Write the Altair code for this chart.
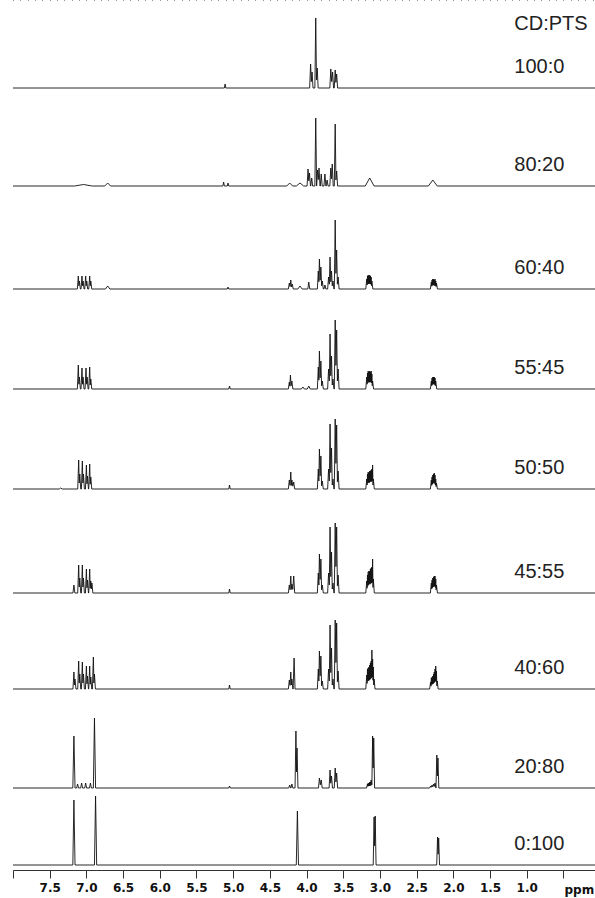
import altair as alt
import pandas as pd

# Stacked 1H NMR spectra of CD:PTS mixtures.
# Each peak is (shift in ppm, height in intensity units[, half width in ppm]).
SAMPLES = ["100:0", "80:20", "60:40", "55:45", "50:50", "45:55", "40:60", "20:80", "0:100"]

PEAKS_100_0 = [
    (5.11, 4, 0.01),
    (3.945, 24), (3.925, 16), (3.875, 70, 0.012), (3.855, 20),
    (3.67, 19), (3.645, 16), (3.61, 18), (3.59, 14),
]

PEAKS_80_20 = [
    (7.04, 1.5, 0.12), (6.71, 3, 0.04), (5.13, 4, 0.01), (5.07, 3, 0.01),
    (4.23, 3, 0.04), (4.09, 3, 0.05),
    (3.98, 17), (3.96, 13), (3.93, 8), (3.875, 68, 0.012), (3.85, 16),
    (3.83, 18), (3.80, 12), (3.75, 12), (3.72, 6),
    (3.67, 18), (3.65, 22), (3.61, 62, 0.012), (3.59, 15),
    (3.14, 8, 0.06), (2.28, 6, 0.06),
]

PEAKS_60_40 = [
    (7.11, 13), (7.095, 8), (7.06, 13), (7.045, 8), (7.01, 13), (6.995, 8), (6.955, 13), (6.94, 8),
    (6.71, 3, 0.03), (5.07, 2, 0.01),
    (4.235, 6), (4.215, 9), (4.195, 5), (4.09, 3, 0.03), (3.97, 7),
    (3.84, 18), (3.825, 30), (3.805, 22), (3.785, 8), (3.75, 4),
    (3.70, 12), (3.68, 32), (3.66, 18), (3.64, 8),
    (3.61, 69, 0.012), (3.59, 39), (3.57, 12),
    (3.18, 10), (3.17, 13), (3.16, 14), (3.15, 13), (3.14, 14), (3.13, 13), (3.12, 12), (3.11, 8),
    (2.30, 7), (2.29, 9), (2.28, 10), (2.27, 10), (2.26, 9), (2.25, 10), (2.24, 8), (2.23, 6),
]

PEAKS_55_45 = [
    (7.11, 24), (7.095, 12), (7.06, 21), (7.045, 12), (7.005, 21), (6.99, 12), (6.955, 22), (6.94, 10),
    (5.05, 3, 0.01),
    (4.235, 7), (4.22, 14), (4.20, 8), (4.05, 2, 0.02), (3.97, 3, 0.02),
    (3.84, 22), (3.825, 38), (3.805, 28), (3.785, 8),
    (3.70, 20), (3.68, 55), (3.66, 33), (3.64, 10),
    (3.61, 69, 0.012), (3.59, 59), (3.57, 20),
    (3.18, 12), (3.17, 16), (3.16, 18), (3.15, 17), (3.14, 18), (3.13, 17), (3.12, 18), (3.11, 15), (3.10, 8),
    (2.30, 8), (2.29, 11), (2.28, 12), (2.27, 12), (2.26, 12), (2.25, 11), (2.24, 8),
]

PEAKS_50_50 = [
    (7.35, 1, 0.02),
    (7.105, 29), (7.09, 15), (7.055, 28), (7.04, 15), (7.00, 24), (6.985, 13), (6.955, 25), (6.94, 12),
    (5.05, 4, 0.01),
    (4.235, 9), (4.215, 17), (4.20, 9), (4.175, 7),
    (3.84, 20), (3.825, 40), (3.805, 33), (3.785, 8),
    (3.70, 20), (3.68, 65), (3.66, 41), (3.64, 10),
    (3.61, 70, 0.012), (3.59, 64), (3.57, 18),
    (3.18, 10), (3.17, 15), (3.16, 17), (3.15, 16), (3.14, 18), (3.13, 18), (3.12, 19), (3.11, 20), (3.10, 24), (3.09, 10),
    (2.30, 9), (2.29, 12), (2.28, 14), (2.27, 15), (2.26, 16), (2.25, 14), (2.24, 10), (2.23, 6),
]

PEAKS_45_55 = [
    (7.17, 8),
    (7.105, 28), (7.09, 15), (7.055, 28), (7.04, 15), (7.00, 24), (6.985, 13), (6.955, 24), (6.94, 12), (6.925, 10),
    (5.05, 4, 0.01),
    (4.235, 8), (4.215, 17), (4.20, 9), (4.175, 17),
    (3.84, 20), (3.825, 39), (3.805, 34), (3.785, 8),
    (3.70, 20), (3.68, 66), (3.66, 41), (3.64, 10),
    (3.61, 70, 0.012), (3.59, 66), (3.57, 18),
    (3.18, 12), (3.17, 18), (3.16, 21), (3.15, 22), (3.14, 22), (3.13, 24), (3.12, 25), (3.11, 26), (3.10, 34), (3.09, 14),
    (2.30, 10), (2.29, 13), (2.28, 15), (2.27, 16), (2.26, 17), (2.25, 17), (2.24, 14), (2.23, 8),
]

PEAKS_40_60 = [
    (7.17, 17), (7.155, 10),
    (7.105, 28), (7.09, 15), (7.055, 27), (7.04, 15), (7.00, 23), (6.985, 13), (6.955, 23), (6.94, 12),
    (6.905, 32), (6.89, 15),
    (5.05, 4, 0.01),
    (4.235, 9), (4.215, 17), (4.20, 10), (4.17, 31),
    (3.84, 20), (3.825, 38), (3.805, 33), (3.785, 8),
    (3.70, 20), (3.68, 64), (3.66, 41), (3.64, 10),
    (3.61, 69, 0.012), (3.59, 66), (3.57, 18),
    (3.18, 14), (3.17, 20), (3.16, 21), (3.15, 22), (3.14, 24), (3.13, 26), (3.12, 28), (3.11, 39), (3.10, 30), (3.09, 22), (3.08, 10),
    (2.31, 7), (2.30, 11), (2.29, 12), (2.28, 13), (2.27, 15), (2.26, 17), (2.25, 20), (2.24, 23), (2.23, 18), (2.22, 8),
]

PEAKS_20_80 = [
    (7.17, 52, 0.015), (7.12, 4), (7.065, 5), (7.01, 5), (6.945, 5), (6.89, 70, 0.015),
    (5.05, 2, 0.01),
    (4.23, 3), (4.20, 4), (4.145, 57, 0.012), (4.13, 40),
    (3.825, 10), (3.80, 8), (3.68, 18), (3.66, 12), (3.61, 20), (3.59, 15),
    (3.17, 4), (3.16, 5), (3.15, 5), (3.14, 6), (3.13, 6), (3.12, 8),
    (3.10, 52, 0.012), (3.085, 50, 0.012),
    (2.31, 2), (2.29, 3), (2.27, 4), (2.25, 5), (2.225, 33, 0.012), (2.21, 30, 0.012),
]

PEAKS_0_100 = [
    (7.17, 65, 0.015), (6.875, 69, 0.015), (4.125, 54, 0.015),
    (3.08, 48, 0.012), (3.065, 49, 0.012), (2.215, 28, 0.012), (2.20, 27, 0.012),
]

SPECTRA = [PEAKS_100_0, PEAKS_80_20, PEAKS_60_40, PEAKS_55_45, PEAKS_50_50,
           PEAKS_45_55, PEAKS_40_60, PEAKS_20_80, PEAKS_0_100]

# Layout: vertical baseline of each trace (in intensity units above the axis)
BASE_LEVELS = [782, 684, 581, 481, 381, 277, 181, 82, 5]
LABEL_RISE = 21
LABEL_PPM = 1.17
HEADER = "CD:PTS"
HEADER_LEVEL = 846

PPM_LEFT, PPM_RIGHT = 8.0, 0.07
DEFAULT_HW = 0.013
VALLEY = 0.4
Y_TOP = 870


def trace(peaks):
    """Polyline vertices (ppm, intensity) for a list of peaks."""
    items = sorted(((p[0], p[1], p[2] if len(p) > 2 else DEFAULT_HW) for p in peaks),
                   key=lambda t: -t[0])
    pts = [(PPM_LEFT, 0.0)]
    for i, (pos, h, w) in enumerate(items):
        if i == 0:
            pts.append((pos + w, 0.0))
        else:
            ppos, ph, pw = items[i - 1]
            if ppos - pw >= pos + w:
                pts.append((ppos - pw, 0.0))
                pts.append((pos + w, 0.0))
            else:
                pts.append(((ppos + pos) / 2.0, VALLEY * min(ph, h)))
        pts.append((pos, float(h)))
    last = items[-1]
    pts.append((last[0] - last[2], 0.0))
    pts.append((PPM_RIGHT, 0.0))
    return pts


rows = []
for name, peaks, base in zip(SAMPLES, SPECTRA, BASE_LEVELS):
    for k, (ppm, val) in enumerate(trace(peaks)):
        rows.append({"sample": name, "idx": k, "ppm": ppm, "level": base + val})
df = pd.DataFrame(rows)

labels = pd.DataFrame({
    "text": [HEADER] + SAMPLES,
    "ppm": [LABEL_PPM] * (len(SAMPLES) + 1),
    "level": [HEADER_LEVEL] + [b + LABEL_RISE for b in BASE_LEVELS],
})

MAJOR_TICKS = [round(8.0 - 0.5 * i, 1) for i in range(16)]
MINOR_TICKS = [round(8.0 - 0.1 * i, 1) for i in range(80)]

x_scale = alt.Scale(domain=[PPM_RIGHT, PPM_LEFT], reverse=True, nice=False, zero=False)
y_scale = alt.Scale(domain=[0, Y_TOP], nice=False, zero=False)

major_axis = alt.Axis(
    values=MAJOR_TICKS,
    labelExpr="datum.value > 0.9 && datum.value < 7.9 ? format(datum.value, '.1f') : ''",
    tickSize=8, tickColor="#333", tickWidth=1,
    domainColor="#333", domainWidth=1,
    labelFont="DejaVu Sans", labelFontSize=12, labelFontWeight="bold", labelColor="#111",
    labelPadding=4, labelOverlap=False, labelFlush=False, grid=False,
    title="ppm", titleFont="DejaVu Sans", titleFontSize=12, titleFontWeight="bold",
    titleColor="#111", titleX=551, titleY=23, titleAlign="left", titleBaseline="alphabetic",
)

minor_axis = alt.Axis(
    values=MINOR_TICKS, tickSize=4, tickColor="#333", tickWidth=1,
    labels=False, domain=False, grid=False, title=None,
)

lines = alt.Chart(df).mark_line(color="#111111", strokeWidth=0.9, strokeJoin="round").encode(
    x=alt.X("ppm:Q", scale=x_scale, axis=major_axis),
    y=alt.Y("level:Q", scale=y_scale, axis=None),
    detail="sample:N",
    order="idx:Q",
)

text = alt.Chart(labels).mark_text(
    align="left", baseline="middle", font="Liberation Sans", fontSize=20, color="#222"
).encode(
    x=alt.X("ppm:Q", scale=x_scale, axis=minor_axis),
    y=alt.Y("level:Q", scale=y_scale, axis=None),
    text="text:N",
)

chart = alt.layer(lines, text).resolve_axis(x="independent").properties(
    width=582, height=Y_TOP,
    background="white",
    autosize=alt.AutoSizeParams(type="none"),
    padding={"left": 13, "right": 0, "top": 0, "bottom": 28},
).configure_view(stroke=None)

chart.save("out.html", embed_options={"renderer": "svg", "actions": False})
